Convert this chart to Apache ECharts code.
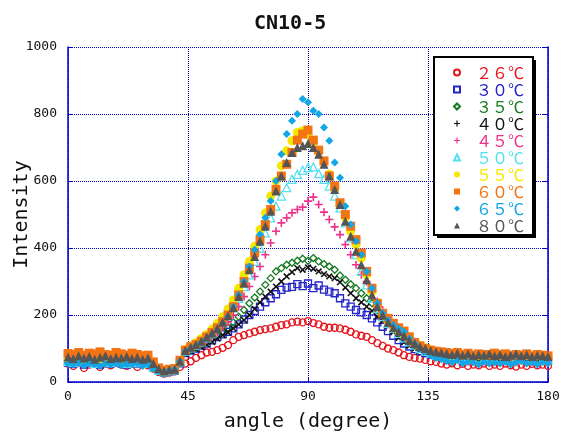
<!DOCTYPE html>
<html>
<head>
<meta charset="utf-8">
<script src="https://cdn.jsdelivr.net/npm/echarts@6/dist/echarts.min.js"></script>
<style>
  html, body { margin: 0; padding: 0; background: #fff; }
  #main { width: 561px; height: 435px; }
</style>
</head>
<body>
<div id="main"></div>
<script>
// angle (degree)
var angles = [
  0, 2, 4, 6, 8, 10, 12, 14, 16, 18,
  20, 22, 24, 26, 28, 30, 32, 34, 36, 38,
  40, 42, 44, 46, 48, 50, 52, 54, 56, 58,
  60, 62, 64, 66, 68, 70, 72, 74, 76, 78,
  80, 82, 84, 86, 88, 90, 92, 94, 96, 98,
  100, 102, 104, 106, 108, 110, 112, 114, 116, 118,
  120, 122, 124, 126, 128, 130, 132, 134, 136, 138,
  140, 142, 144, 146, 148, 150, 152, 154, 156, 158,
  160, 162, 164, 166, 168, 170, 172, 174, 176, 178,
  180
];

// 温度
var temps = ['２６℃', '３０℃', '３５℃', '４０℃', '４５℃', '５０℃', '５５℃', '６０℃', '６５℃', '８０℃'];

// Intensity
var t26 = [
  55, 48, 58, 42, 52, 56, 45, 55, 50, 58,
  52, 48, 56, 45, 55, 50, 40, 30, 25, 28,
  32, 45, 55, 62, 72, 80, 88, 90, 95, 102,
  110, 125, 135, 140, 145, 150, 155, 158, 160, 165,
  170, 172, 178, 180, 178, 182, 176, 172, 165, 162,
  162, 160, 156, 150, 142, 138, 135, 125, 116, 108,
  100, 95, 88, 80, 75, 72, 70, 66, 62, 60,
  55, 52, 56, 50, 54, 48, 52, 50, 55, 48,
  52, 48, 55, 50, 46, 52, 48, 54, 50, 52,
  48
];
var t30 = [
  58, 54, 60, 52, 58, 56, 52, 60, 55, 58,
  56, 52, 58, 55, 60, 54, 44, 34, 28, 32,
  34, 56, 86, 94, 100, 108, 115, 124, 134, 142,
  150, 160, 172, 186, 200, 212, 225, 238, 250, 262,
  275, 282, 284, 292, 286, 294, 280, 288, 276, 270,
  265, 250, 235, 225, 215, 208, 200, 190, 178, 165,
  152, 138, 125, 115, 106, 98, 92, 86, 82, 78,
  76, 72, 75, 70, 74, 68, 72, 70, 74, 68,
  72, 68, 74, 70, 66, 72, 68, 74, 70, 72,
  68
];
var t35 = [
  64, 60, 66, 58, 64, 62, 58, 65, 60, 64,
  62, 58, 64, 60, 62, 58, 46, 36, 30, 34,
  36, 58, 88, 96, 102, 110, 118, 128, 138, 150,
  162, 178, 195, 215, 235, 252, 270, 290, 310, 330,
  340, 350, 356, 362, 368, 362, 370, 360, 352, 345,
  335, 318, 305, 292, 280, 265, 250, 235, 215, 200,
  190, 172, 158, 140, 125, 112, 102, 94, 88, 84,
  80, 76, 78, 74, 78, 72, 76, 74, 78, 72,
  76, 72, 78, 74, 70, 76, 72, 78, 74, 76,
  72
];
var t40 = [
  60, 56, 62, 55, 60, 58, 54, 62, 57, 60,
  58, 55, 60, 57, 62, 55, 44, 32, 26, 30,
  32, 55, 84, 92, 98, 105, 112, 120, 130, 140,
  148, 160, 172, 185, 200, 218, 238, 255, 270, 285,
  300, 315, 328, 340, 335, 342, 338, 330, 322, 315,
  310, 298, 282, 265, 250, 238, 225, 212, 195, 182,
  168, 150, 132, 118, 108, 100, 94, 88, 84, 80,
  76, 72, 75, 70, 74, 68, 72, 70, 74, 68,
  72, 68, 74, 70, 66, 72, 68, 74, 70, 72,
  68
];
var t45 = [
  66, 62, 68, 60, 65, 64, 58, 66, 62, 68,
  64, 60, 66, 62, 70, 58, 48, 36, 30, 34,
  36, 60, 90, 100, 108, 115, 125, 135, 148, 165,
  180, 200, 225, 255, 285, 315, 345, 380, 415, 450,
  475, 490, 505, 515, 522, 540, 552, 530, 507, 485,
  463, 440, 410, 380, 350, 320, 300, 270, 240, 215,
  190, 172, 158, 145, 132, 120, 110, 102, 95, 90,
  86, 82, 80, 84, 78, 82, 76, 80, 78, 82,
  76, 80, 74, 78, 82, 76, 80, 74, 78, 76,
  74
];
var t50 = [
  62, 58, 65, 60, 64, 56, 60, 62, 58, 64,
  60, 56, 62, 58, 60, 56, 45, 35, 30, 34,
  36, 60, 92, 102, 110, 120, 132, 145, 160, 178,
  198, 222, 250, 285, 320, 360, 400, 445, 490, 525,
  555, 580, 605, 620, 632, 640, 642, 622, 605, 585,
  555, 520, 475, 430, 380, 330, 290, 250, 220, 195,
  175, 160, 145, 132, 120, 110, 100, 92, 86, 80,
  78, 74, 72, 76, 70, 74, 68, 72, 70, 74,
  68, 72, 66, 70, 74, 68, 72, 66, 70, 68,
  66
];
var t55 = [
  68, 65, 72, 62, 70, 66, 64, 70, 65, 68,
  66, 62, 70, 64, 68, 62, 50, 38, 32, 36,
  38, 62, 98, 108, 118, 130, 142, 158, 175, 195,
  218, 245, 280, 320, 360, 405, 455, 505, 555, 600,
  645, 690, 720, 745, 750, 738, 715, 690, 655, 620,
  575, 530, 490, 450, 410, 370, 320, 270, 232, 205,
  180, 165, 152, 140, 128, 118, 110, 102, 96, 90,
  88, 84, 80, 85, 78, 82, 76, 80, 78, 82,
  76, 80, 74, 78, 82, 76, 80, 74, 78, 76,
  74
];
var t60 = [
  85, 82, 88, 80, 86, 84, 90, 82, 80, 88,
  84, 80, 86, 82, 78, 80, 60, 42, 35, 38,
  40, 65, 95, 105, 112, 122, 135, 148, 162, 180,
  200, 225, 260, 300, 340, 385, 425, 470, 515, 575,
  615, 650, 685, 722, 740, 752, 722, 692, 660, 615,
  585, 535, 500, 465, 425, 385, 330, 280, 235, 205,
  190, 175, 162, 152, 135, 118, 108, 100, 95, 92,
  90, 88, 85, 88, 82, 86, 80, 84, 82, 80,
  86, 80, 84, 78, 82, 80, 84, 78, 82, 80,
  78
];
var t65 = [
  55, 52, 58, 50, 56, 54, 48, 55, 52, 57,
  50, 54, 52, 56, 48, 52, 40, 32, 30, 35,
  38, 62, 92, 100, 108, 118, 128, 140, 155, 175,
  195, 225, 260, 300, 345, 395, 440, 490, 540, 600,
  680, 740, 780, 800, 845, 835, 810, 800, 760, 720,
  655, 610, 525, 470, 420, 380, 330, 280, 235, 205,
  185, 170, 160, 150, 130, 115, 100, 90, 80, 72,
  68, 62, 58, 65, 55, 60, 58, 52, 60, 55,
  58, 55, 60, 52, 58, 62, 55, 58, 52, 60,
  55
];
var t80 = [
  75, 70, 78, 72, 76, 68, 74, 78, 70, 74,
  72, 76, 70, 74, 68, 72, 55, 40, 33, 36,
  38, 62, 94, 104, 112, 122, 134, 146, 160, 178,
  198, 222, 255, 295, 335, 375, 420, 465, 510, 570,
  615, 655, 685, 700, 705, 712, 700, 680, 650, 615,
  575, 530, 480, 435, 390, 350, 305, 260, 225, 200,
  178, 162, 150, 138, 125, 115, 106, 100, 94, 90,
  88, 85, 82, 86, 80, 84, 78, 82, 80, 84,
  78, 82, 76, 80, 84, 78, 82, 76, 80, 78,
  76
];

var values = [t26, t30, t35, t40, t45, t50, t55, t60, t65, t80];

// マーカー
var plusPath = 'path://M4,0H6V4H10V6H6V10H4V6H0V4H4Z';
var marks = [
  { color: '#e8141c', symbol: 'circle', size: 7, hollow: true },
  { color: '#2424c8', symbol: 'rect', size: 7, hollow: true },
  { color: '#187a22', symbol: 'diamond', size: 7, hollow: true },
  { color: '#111111', symbol: plusPath, size: 8, rotate: 45 },
  { color: '#f0308a', symbol: plusPath, size: 8 },
  { color: '#55dff2', symbol: 'triangle', size: 8, hollow: true },
  { color: '#f5e800', symbol: 'circle', size: 9 },
  { color: '#f47414', symbol: 'rect', size: 9 },
  { color: '#12a6e6', symbol: 'diamond', size: 8 },
  { color: '#555555', symbol: 'triangle', size: 9 }
];

var mono = 'DejaVu Sans Mono';
var blue = '#0000cc';

function buildSeries() {
  return temps.map(function (name, k) {
    var m = marks[k];
    var style = m.hollow
      ? { color: 'rgba(0,0,0,0)', borderColor: m.color, borderWidth: 1.3, opacity: 1 }
      : { color: m.color, opacity: 1 };
    return {
      name: name,
      type: 'scatter',
      symbol: m.symbol,
      symbolSize: m.size,
      symbolRotate: m.rotate || 0,
      itemStyle: style,
      silent: true,
      data: angles.map(function (a, i) { return [a, values[k][i]]; })
    };
  });
}

window.addEventListener("load", function () {
  var myChart = echarts.init(document.getElementById('main'), null, { renderer: 'canvas' });
  var option = {
    backgroundColor: '#fff',
    animation: false,
    title: {
      text: 'CN10-5',
      left: 249,
      top: 9,
      textStyle: { fontFamily: mono, fontSize: 20, fontWeight: 'bold', color: '#111' }
    },
    // 凡例の枠（影つき）
    graphic: [
      { type: 'rect', z: 10, silent: true, shape: { x: 437, y: 60, width: 99, height: 178 }, style: { fill: '#000' } },
      { type: 'rect', z: 11, silent: true, shape: { x: 434, y: 57, width: 99, height: 178 }, style: { fill: '#fff', stroke: '#000', lineWidth: 2 } }
    ],
    legend: {
      orient: 'vertical',
      left: 453,
      top: 64,
      z: 20,
      selectedMode: false,
      padding: 0,
      itemWidth: 6,
      itemHeight: 6,
      itemGap: 0,
      textStyle: { fontFamily: 'Noto Sans CJK JP', fontSize: 16, lineHeight: 17, padding: [0, 0, 0, 11] },
      data: temps.map(function (n, k) {
        return { name: n, textStyle: { color: marks[k].color } };
      })
    },
    grid: { left: 68, right: 13, top: 47, bottom: 53, outerBoundsMode: 'none' },
    xAxis: {
      type: 'value',
      min: 0,
      max: 180,
      interval: 45,
      name: 'angle (degree)',
      nameLocation: 'middle',
      nameGap: 30,
      nameMoveOverlap: false,
      nameTextStyle: { fontFamily: mono, fontSize: 20, color: '#111' },
      axisLine: { lineStyle: { color: blue, width: 1.5 } },
      axisTick: { inside: true, length: 5, lineStyle: { color: blue } },
      axisLabel: { margin: 8, fontFamily: mono, fontSize: 13, color: '#111' },
      splitLine: { show: true, lineStyle: { color: blue, type: 'dotted', width: 1 } }
    },
    yAxis: [
      {
        type: 'value',
        min: 0,
        max: 1000,
        interval: 200,
        name: 'Intensity',
        nameLocation: 'middle',
        nameGap: 36,
        nameMoveOverlap: false,
        nameTextStyle: { fontFamily: mono, fontSize: 20, color: '#111' },
        axisLine: { show: true, lineStyle: { color: blue, width: 1.5 } },
        axisTick: { show: true, inside: true, length: 5, lineStyle: { color: blue } },
        axisLabel: {
          margin: 11, fontFamily: mono, fontSize: 13, color: '#111',
          formatter: function (v) { return String(v); }
        },
        splitLine: { show: true, lineStyle: { color: blue, type: 'dotted', width: 1 } }
      },
      {
        type: 'value',
        position: 'right',
        min: 0,
        max: 1000,
        interval: 200,
        axisLine: { show: true, lineStyle: { color: blue, width: 1.5 } },
        axisTick: { show: true, inside: true, length: 5, lineStyle: { color: blue } },
        axisLabel: { show: false },
        splitLine: { show: false }
      }
    ],
    series: buildSeries()
  };
  myChart.setOption(option);
}, false);
</script>
</body>
</html>
